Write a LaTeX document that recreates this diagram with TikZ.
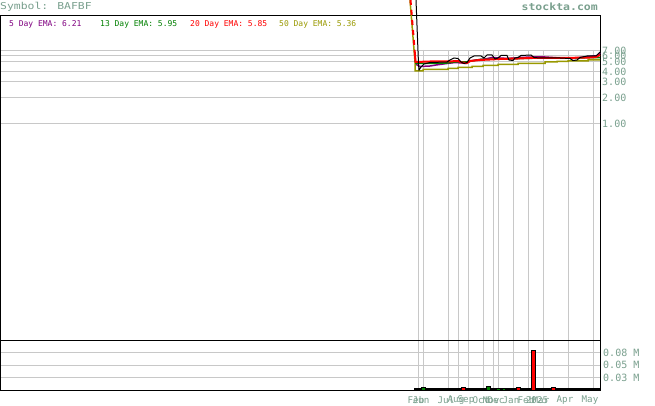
\documentclass[tikz,border=0pt]{standalone}
\usepackage{fontspec}
\newfontfamily\ttlfont[FakeStretch=1.2]{DejaVu Sans Mono}
\newfontfamily\sitefont[FakeStretch=1.15]{DejaVu Sans Mono Bold}
\newfontfamily\legfont{DejaVu Sans Mono}
\newfontfamily\axfont{DejaVu Sans Mono}
\definecolor{lblc}{RGB}{122,160,142}
\definecolor{gridc}{RGB}{200,200,200}
\definecolor{emapurple}{RGB}{128,0,128}
\definecolor{emagreen}{RGB}{0,128,0}
\definecolor{emared}{RGB}{255,0,0}
\definecolor{emaolive}{RGB}{153,153,0}
\tikzset{
  grid line/.style={draw=gridc,line width=1pt},
  frame line/.style={draw=black,line width=1pt},
  ttl/.style={font=\ttlfont\fontsize{9.5}{10}\selectfont,text=lblc,inner sep=0pt},
  site/.style={font=\sitefont\fontsize{10}{10}\selectfont,text=lblc,inner sep=0pt},
  leg/.style={font=\legfont\fontsize{8}{8}\selectfont,inner sep=0pt,anchor=west},
  axlbl/.style={font=\axfont\fontsize{10}{10}\selectfont,text=lblc,inner sep=0pt,anchor=west},
  datelbl/.style={font=\axfont\fontsize{9.2}{9}\selectfont,text=lblc,inner sep=0pt},
  redbar/.style={fill=emared,draw=black,line width=0.8pt},
  greenbar/.style={fill=emagreen,draw=black,line width=0.8pt},
}
\begin{document}
\begin{tikzpicture}[x=1pt,y=-1pt]
\useasboundingbox (0,0) rectangle (655,406);
\fill[white] (0,0) rectangle (655,406);
% horizontal grid (price)
\foreach \yy in {50.5,55.5,61.5,71.5,82,97.5,124}
  \draw[grid line] (0,\yy) -- (600,\yy);
% horizontal grid (volume)
\foreach \yy in {352.5,365,377.5}
  \draw[grid line] (0,\yy) -- (600,\yy);
% vertical grid
\foreach \xx in {418.5,423.5,448.5,458.5,468.5,483.5,493.5,498.5,513.5,528.5,543.5,568.5,593.5}
  \draw[grid line] (\xx,50) -- (\xx,390);
% frame
\draw[frame line] (0.5,15.5) rectangle (600.5,390);
\draw[frame line] (0,340.5) -- (600,340.5);
% EMA 50
\draw[emaolive,line width=1.5pt] (410,0) -- (415,62) -- (415,71) -- (423,71) -- (423,69.5) -- (448,69.5) -- (448,68.5) -- (458,68.5) -- (458,67.3) -- (472,67.3) -- (472,66.3) -- (483,66.3) -- (483,65.3) -- (498,65.3) -- (498,64.3) -- (518,64.3) -- (518,63.3) -- (545,63.3) -- (545,62) -- (557,62) -- (557,61.5) -- (568,61.5) -- (568,61) -- (588,61) -- (588,60) -- (600,60);
% EMA 5
\draw[emapurple,line width=1.5pt] (416,62) -- (417,65) -- (420,66.5) -- (430,66) -- (436,65) -- (447,63.5) -- (455,62.5) -- (462,63) -- (466,63.5) -- (470,61) -- (476,60) -- (485,59) -- (492,57.5) -- (500,58) -- (508,58.5) -- (520,57.5) -- (532,57) -- (545,57) -- (560,58) -- (575,58) -- (590,56.5) -- (598,55.5) -- (600,53);
% EMA 13
\draw[emagreen,line width=1.5pt] (415,60) -- (416,63.5) -- (425,63.5) -- (447,63) -- (455,62) -- (466,62) -- (472,61) -- (480,59.5) -- (500,59) -- (520,58.5) -- (545,58) -- (570,58) -- (600,57.5);
% EMA 20
\draw[emared,line width=2pt,dash pattern=on 5pt off 5pt] (410.5,0) -- (415,55);
\draw[emared,line width=2pt] (415,55) -- (415.5,62) -- (430,61.5) -- (448,61.5) -- (458,61) -- (462,62.5) -- (467,63) -- (470,61) -- (480,60) -- (500,59) -- (518,58.5) -- (530,58) -- (560,58) -- (590,57.5) -- (596,57) -- (600,55);
% price
\draw[black,line width=1pt] (416,0) -- (418.5,64) -- (419,70) -- (421,67) -- (424,64) -- (430,62.5) -- (447,62) -- (450,60) -- (454,58) -- (458,58.5) -- (461,62) -- (464,63.5) -- (467,62.5) -- (470,58) -- (474,56) -- (481,56) -- (484,58) -- (487,55) -- (492,55) -- (495,59) -- (498,58) -- (501,55.5) -- (507,55.5) -- (509,60) -- (513,60.5) -- (515,58) -- (518,57.5) -- (521,55.5) -- (531,55) -- (534,57.5) -- (540,58) -- (560,58) -- (570,58.5) -- (573,60.5) -- (577,60) -- (580,57.5) -- (587,56) -- (596,56) -- (600,52);
% volume baseline and bars
\draw[black,line width=1.5pt] (414,389) -- (600,389);
\draw[greenbar] (421.5,387) rectangle (425.5,390);
\draw[redbar] (461.5,387) rectangle (465,390);
\draw[greenbar] (486.5,386) rectangle (490,390);
\draw[greenbar] (496.5,388.3) rectangle (500,390);
\draw[greenbar] (502,388.3) rectangle (505,390);
\draw[redbar] (516.5,387) rectangle (520,390);
\draw[redbar] (531.5,350.5) rectangle (535,390);
\draw[redbar] (551.5,387) rectangle (555,390);
% titles
\node[ttl,anchor=west] (title) at (0,6.5) {Symbol: BAFBF};
\node[site,anchor=east] (site) at (598,7) {stockta.com};
\node[leg,text=emapurple] (l5) at (9,24) {5 Day EMA: 6.21};
\node[leg,text=emagreen] (l13) at (100,24) {13 Day EMA: 5.95};
\node[leg,text=emared] (l20) at (190,24) {20 Day EMA: 5.85};
\node[leg,text=emaolive] (l50) at (279,24) {50 Day EMA: 5.36};
% price axis labels
\node[axlbl] (p7) at (602,50.5) {7.00};
\node[axlbl] (p6) at (602,55.5) {6.00};
\node[axlbl] (p5) at (602,61.5) {5.00};
\node[axlbl] (p4) at (602,71.5) {4.00};
\node[axlbl] (p3) at (602,82) {3.00};
\node[axlbl] (p2) at (602,97.5) {2.00};
\node[axlbl] (p1) at (602,124) {1.00};
% volume labels
\node[axlbl] (v8) at (603,352.5) {0.08 M};
\node[axlbl] (v5) at (603,365) {0.05 M};
\node[axlbl] (v3) at (603,377.5) {0.03 M};
% date labels
\node[datelbl] (dfeb1) at (416,400) {Feb};
\node[datelbl] (djun) at (421,400) {Jun};
\node[datelbl] (djul) at (446,400) {Jul};
\node[datelbl] (daug) at (456,400) {Aug};
\node[datelbl] (dsep) at (466,400) {Sep};
\node[datelbl] (doct) at (481,400) {Oct};
\node[datelbl] (dnov) at (491,400) {Nov};
\node[datelbl] (ddec) at (496,400) {Dec};
\node[datelbl] (djan) at (511,400) {Jan};
\node[datelbl] (dfeb2) at (526,400) {Feb};
\node[datelbl] (dyear) at (537,400) {2025};
\node[datelbl] (dmar) at (541,400) {Mar};
\node[datelbl] (dapr) at (565,400) {Apr};
\node[datelbl] (dmay) at (590,400) {May};
\end{tikzpicture}
\end{document}
